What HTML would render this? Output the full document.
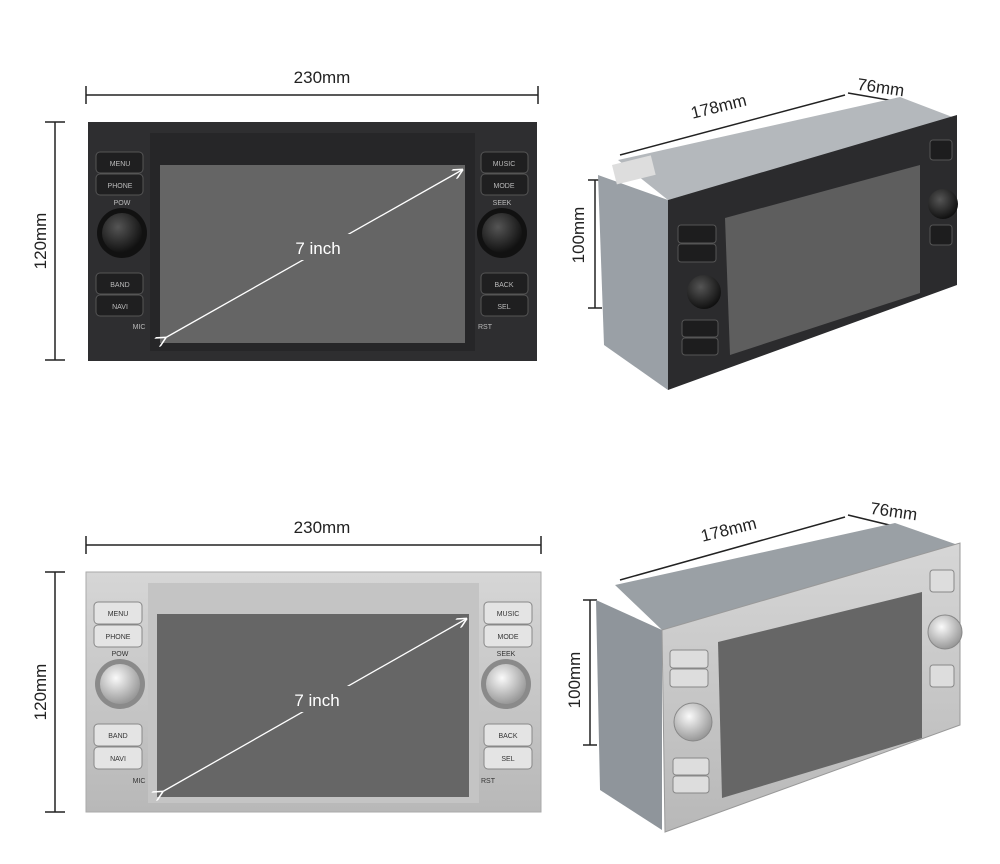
<!DOCTYPE html>
<html><head><meta charset="utf-8"><style>
html,body{margin:0;padding:0;background:#fff;}
svg{display:block;font-family:"Liberation Sans",sans-serif;}
</style></head><body>
<svg width="1000" height="864" viewBox="0 0 1000 864" xmlns="http://www.w3.org/2000/svg">
<defs>
<marker id="ar" markerWidth="8" markerHeight="8" refX="7" refY="4" orient="auto"><path d="M0,0 L8,4 L0,8" fill="none" stroke="#fff" stroke-width="1.2"/></marker>
<radialGradient id="kd" cx="40%" cy="35%" r="65%"><stop offset="0" stop-color="#555"/><stop offset="1" stop-color="#111"/></radialGradient>
<radialGradient id="ks" cx="40%" cy="35%" r="65%"><stop offset="0" stop-color="#fafafa"/><stop offset="1" stop-color="#999"/></radialGradient>
<linearGradient id="sil" x1="0" y1="0" x2="0" y2="1"><stop offset="0" stop-color="#d6d6d6"/><stop offset="1" stop-color="#b8b8b8"/></linearGradient>
</defs>

<!-- TOP dims -->
<g stroke="#222" stroke-width="1.5">
<line x1="86" y1="95" x2="538" y2="95"/><line x1="86" y1="86" x2="86" y2="104"/><line x1="538" y1="86" x2="538" y2="104"/>
<line x1="55" y1="122" x2="55" y2="360"/><line x1="45" y1="122" x2="65" y2="122"/><line x1="45" y1="360" x2="65" y2="360"/>
<line x1="86" y1="545" x2="541" y2="545"/><line x1="86" y1="536" x2="86" y2="554"/><line x1="541" y1="536" x2="541" y2="554"/>
<line x1="55" y1="572" x2="55" y2="812"/><line x1="45" y1="572" x2="65" y2="572"/><line x1="45" y1="812" x2="65" y2="812"/>
<line x1="595" y1="180" x2="595" y2="308"/><line x1="588" y1="180" x2="602" y2="180"/><line x1="588" y1="308" x2="602" y2="308"/>
<line x1="590" y1="600" x2="590" y2="745"/><line x1="583" y1="600" x2="597" y2="600"/><line x1="583" y1="745" x2="597" y2="745"/>
<line x1="620" y1="155" x2="845" y2="95"/><line x1="848" y1="93" x2="912" y2="104"/>
<line x1="620" y1="580" x2="845" y2="517"/><line x1="848" y1="515" x2="918" y2="532"/>
</g>
<g font-size="17" fill="#222" text-anchor="middle">
<text x="322" y="83">230mm</text>
<text x="322" y="533">230mm</text>
<text transform="translate(46,241) rotate(-90)">120mm</text>
<text transform="translate(46,692) rotate(-90)">120mm</text>
<text transform="translate(584,235) rotate(-90)">100mm</text>
<text transform="translate(580,680) rotate(-90)">100mm</text>
<text transform="translate(720,112) rotate(-14)">178mm</text>
<text transform="translate(880,93) rotate(8)">76mm</text>
<text transform="translate(730,535) rotate(-14)">178mm</text>
<text transform="translate(893,517) rotate(8)">76mm</text>
</g>

<!-- TOP FRONT dark -->
<rect x="88" y="122" width="449" height="239" fill="#2e2e30"/>
<rect x="150" y="133" width="325" height="218" fill="#262628"/>
<rect x="160" y="165" width="305" height="178" fill="#656565"/>
<g fill="#1f1f20" stroke="#555" stroke-width="1">
<rect x="96" y="152" width="47" height="21" rx="4"/><rect x="96" y="174" width="47" height="21" rx="4"/>
<rect x="96" y="273" width="47" height="21" rx="4"/><rect x="96" y="295" width="47" height="21" rx="4"/>
<rect x="481" y="152" width="47" height="21" rx="4"/><rect x="481" y="174" width="47" height="21" rx="4"/>
<rect x="481" y="273" width="47" height="21" rx="4"/><rect x="481" y="295" width="47" height="21" rx="4"/>
</g>
<circle cx="122" cy="233" r="25" fill="#111"/><circle cx="122" cy="233" r="20" fill="url(#kd)"/>
<circle cx="502" cy="233" r="25" fill="#111"/><circle cx="502" cy="233" r="20" fill="url(#kd)"/>
<g font-size="7" fill="#bbb" text-anchor="middle">
<text x="120" y="166">MENU</text><text x="120" y="188">PHONE</text><text x="120" y="287">BAND</text><text x="120" y="309">NAVI</text>
<text x="504" y="166">MUSIC</text><text x="504" y="188">MODE</text><text x="504" y="287">BACK</text><text x="504" y="309">SEL</text>
<text x="122" y="205">POW</text><text x="502" y="205">SEEK</text><text x="139" y="329">MIC</text><text x="485" y="329">RST</text>
</g>
<line x1="165" y1="338" x2="462" y2="170" stroke="#fff" stroke-width="1.3" marker-end="url(#ar)" marker-start="url(#ar)"/>
<rect x="282" y="234" width="72" height="26" fill="#656565"/>
<text x="318" y="254" font-size="17" fill="#fff" text-anchor="middle">7 inch</text>

<!-- BOTTOM FRONT silver -->
<rect x="86" y="572" width="455" height="240" fill="url(#sil)" stroke="#aaa"/>
<rect x="148" y="583" width="331" height="220" fill="#c4c4c4"/>
<rect x="157" y="614" width="312" height="183" fill="#666"/>
<g fill="#e4e4e4" stroke="#888" stroke-width="1">
<rect x="94" y="602" width="48" height="22" rx="4"/><rect x="94" y="625" width="48" height="22" rx="4"/>
<rect x="94" y="724" width="48" height="22" rx="4"/><rect x="94" y="747" width="48" height="22" rx="4"/>
<rect x="484" y="602" width="48" height="22" rx="4"/><rect x="484" y="625" width="48" height="22" rx="4"/>
<rect x="484" y="724" width="48" height="22" rx="4"/><rect x="484" y="747" width="48" height="22" rx="4"/>
</g>
<circle cx="120" cy="684" r="25" fill="#8a8a8a"/><circle cx="120" cy="684" r="20" fill="url(#ks)"/>
<circle cx="506" cy="684" r="25" fill="#8a8a8a"/><circle cx="506" cy="684" r="20" fill="url(#ks)"/>
<g font-size="7" fill="#333" text-anchor="middle">
<text x="118" y="616">MENU</text><text x="118" y="639">PHONE</text><text x="118" y="738">BAND</text><text x="118" y="761">NAVI</text>
<text x="508" y="616">MUSIC</text><text x="508" y="639">MODE</text><text x="508" y="738">BACK</text><text x="508" y="761">SEL</text>
<text x="120" y="656">POW</text><text x="506" y="656">SEEK</text><text x="139" y="783">MIC</text><text x="488" y="783">RST</text>
</g>
<line x1="162" y1="792" x2="466" y2="619" stroke="#fff" stroke-width="1.3" marker-end="url(#ar)" marker-start="url(#ar)"/>
<rect x="280" y="686" width="74" height="26" fill="#666"/>
<text x="317" y="706" font-size="17" fill="#fff" text-anchor="middle">7 inch</text>

<!-- TOP RIGHT 3D dark -->
<polygon points="618,160 900,97 955,118 668,200" fill="#b4b8bc"/>
<polygon points="598,175 668,200 668,390 604,345" fill="#9aa0a6"/>
<rect x="612" y="165" width="40" height="20" fill="#ddd" transform="rotate(-14 612 165)"/>
<polygon points="668,200 957,115 957,285 668,390" fill="#2b2b2d"/>
<polygon points="725,218 920,165 920,293 730,355" fill="#5e5e5e"/>
<g fill="#1d1d1e" stroke="#555"><rect x="678" y="225" width="38" height="18" rx="3"/><rect x="678" y="244" width="38" height="18" rx="3"/>
<rect x="682" y="320" width="36" height="17" rx="3"/><rect x="682" y="338" width="36" height="17" rx="3"/>
<rect x="930" y="140" width="22" height="20" rx="3"/><rect x="930" y="225" width="22" height="20" rx="3"/></g>
<circle cx="704" cy="292" r="17" fill="url(#kd)"/><circle cx="943" cy="204" r="15" fill="url(#kd)"/>

<!-- BOTTOM RIGHT 3D silver -->
<polygon points="615,585 895,523 958,545 662,630" fill="#9aa0a5"/>
<polygon points="596,600 662,630 662,830 600,790" fill="#8f959b"/>
<polygon points="662,630 960,543 960,725 665,832" fill="url(#sil)" stroke="#999"/>
<polygon points="718,642 922,592 922,738 722,798" fill="#666"/>
<g fill="#ddd" stroke="#888"><rect x="670" y="650" width="38" height="18" rx="3"/><rect x="670" y="669" width="38" height="18" rx="3"/>
<rect x="673" y="758" width="36" height="17" rx="3"/><rect x="673" y="776" width="36" height="17" rx="3"/>
<rect x="930" y="570" width="24" height="22" rx="3"/><rect x="930" y="665" width="24" height="22" rx="3"/></g>
<circle cx="693" cy="722" r="19" fill="url(#ks)" stroke="#888"/><circle cx="945" cy="632" r="17" fill="url(#ks)" stroke="#888"/>
</svg>
</body></html>
